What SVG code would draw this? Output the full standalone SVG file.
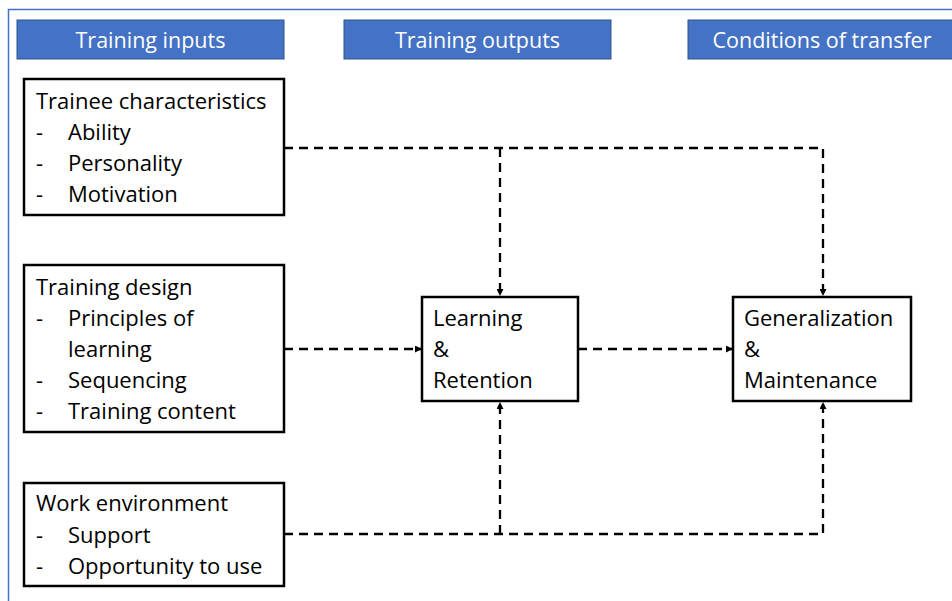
<svg xmlns="http://www.w3.org/2000/svg" width="952" height="601" viewBox="0 0 952 601">
<defs>
<style>
.frame{fill:none;stroke:#4472C4;stroke-width:1.5}
.hdr{fill:#4472C4;stroke:#2F528F;stroke-width:1}
.hdrt{fill:#ffffff;font-family:"Open Sans","Noto Sans",sans-serif;font-size:21.5px;text-anchor:middle}
.box{fill:#ffffff;stroke:#000000;stroke-width:2.5}
.t{fill:#000000;font-family:"Open Sans","Noto Sans",sans-serif;font-size:22px}
.c{fill:none;stroke:#000000;stroke-width:2.3;stroke-dasharray:9 6}
</style>
<marker id="ah" viewBox="0 0 10 10" refX="10" refY="5" markerWidth="7" markerHeight="7" markerUnits="userSpaceOnUse" orient="auto">
<path d="M0,0 L10,5 L0,10 z" fill="#000000"/>
</marker>
</defs>
<rect width="952" height="601" fill="#ffffff"/>
<rect class="frame" x="8.5" y="9.5" width="960" height="600"/>

<g id="hdr-inputs"><rect class="hdr" x="17" y="20" width="267" height="39"/><text class="hdrt" x="150.5" y="47.5">Training inputs</text></g>
<g id="hdr-outputs"><rect class="hdr" x="344" y="20" width="267" height="39"/><text class="hdrt" x="477.5" y="47.5">Training outputs</text></g>
<g id="hdr-transfer"><rect class="hdr" x="688" y="20" width="270" height="39"/><text class="hdrt" x="822" y="47.5">Conditions of transfer</text></g>

<g id="connectors">
<polyline class="c" points="284,148 823,148 823,296" marker-end="url(#ah)"/>
<line class="c" x1="500" y1="148" x2="500" y2="296" marker-end="url(#ah)"/>
<line class="c" x1="284" y1="349" x2="422" y2="349" marker-end="url(#ah)"/>
<line class="c" x1="578" y1="349" x2="733" y2="349" marker-end="url(#ah)"/>
<polyline class="c" points="284,534 823,534 823,402" marker-end="url(#ah)"/>
<line class="c" x1="500" y1="534" x2="500" y2="402" marker-end="url(#ah)"/>
</g>

<g id="trainee">
<rect class="box" x="24" y="79" width="260" height="136"/>
<text class="t" x="36" y="109">Trainee characteristics</text>
<text class="t" x="36" y="140">-</text><text class="t" x="68" y="140">Ability</text>
<text class="t" x="36" y="171">-</text><text class="t" x="68" y="171">Personality</text>
<text class="t" x="36" y="202">-</text><text class="t" x="68" y="202">Motivation</text>
</g>

<g id="design">
<rect class="box" x="24" y="265" width="260" height="167"/>
<text class="t" x="36" y="295">Training design</text>
<text class="t" x="36" y="326">-</text><text class="t" x="68" y="326">Principles of</text>
<text class="t" x="68" y="357">learning</text>
<text class="t" x="36" y="388">-</text><text class="t" x="68" y="388">Sequencing</text>
<text class="t" x="36" y="419">-</text><text class="t" x="68" y="419">Training content</text>
</g>

<g id="work">
<rect class="box" x="24" y="483" width="260" height="103"/>
<text class="t" x="36" y="511">Work environment</text>
<text class="t" x="36" y="543">-</text><text class="t" x="68" y="543">Support</text>
<text class="t" x="36" y="574">-</text><text class="t" x="68" y="574">Opportunity to use</text>
</g>

<g id="learning">
<rect class="box" x="422" y="297" width="156" height="104"/>
<text class="t" x="433" y="326">Learning</text>
<text class="t" x="433" y="357">&amp;</text>
<text class="t" x="433" y="388">Retention</text>
</g>

<g id="generalization">
<rect class="box" x="733" y="297" width="178" height="104"/>
<text class="t" x="744" y="326">Generalization</text>
<text class="t" x="744" y="357">&amp;</text>
<text class="t" x="744" y="388">Maintenance</text>
</g>
</svg>
